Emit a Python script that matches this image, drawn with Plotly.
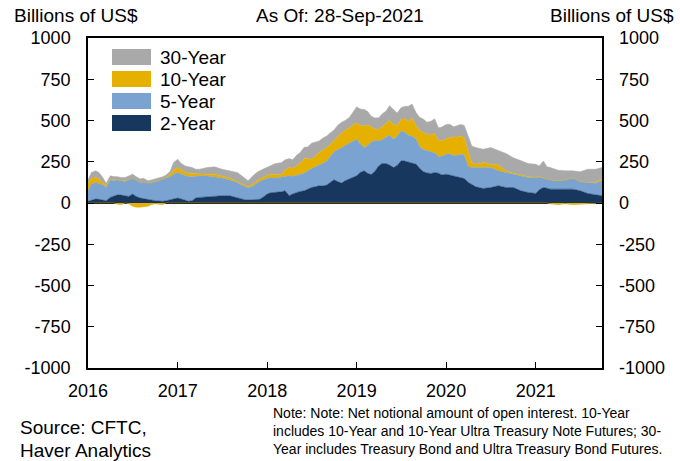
import plotly.graph_objects as go

# Weekly CFTC net notional open interest, sampled roughly twice a month (billions of US$)
dates = [
    "2016-01-01", "2016-01-15", "2016-02-01", "2016-02-15", "2016-03-01", "2016-03-15",
    "2016-04-01", "2016-04-15", "2016-05-01", "2016-05-15", "2016-06-01", "2016-06-15",
    "2016-07-01", "2016-07-15", "2016-08-01", "2016-08-15", "2016-09-01", "2016-09-15",
    "2016-10-01", "2016-10-15", "2016-11-01", "2016-11-15", "2016-12-01", "2016-12-15",
    "2017-01-01", "2017-01-15", "2017-02-01", "2017-02-15", "2017-03-01", "2017-03-15",
    "2017-04-01", "2017-05-01", "2017-06-01", "2017-07-01", "2017-08-01", "2017-09-01",
    "2017-09-15", "2017-10-01", "2017-10-15", "2017-11-01", "2017-11-15", "2017-12-01",
    "2017-12-15",
    "2018-01-01", "2018-01-15", "2018-02-01", "2018-03-01", "2018-03-15", "2018-04-01",
    "2018-04-15", "2018-05-01", "2018-05-15", "2018-06-01", "2018-06-15", "2018-07-01",
    "2018-07-15", "2018-08-01", "2018-08-15", "2018-09-01", "2018-09-15", "2018-10-01",
    "2018-10-15", "2018-11-01", "2018-11-15", "2018-12-01", "2018-12-15",
    "2019-01-01", "2019-01-15", "2019-02-01", "2019-02-15", "2019-03-01", "2019-03-15",
    "2019-04-01", "2019-04-15", "2019-05-01", "2019-05-15", "2019-06-01", "2019-06-15",
    "2019-07-01", "2019-07-15", "2019-08-01", "2019-08-15", "2019-09-01", "2019-09-15",
    "2019-10-01", "2019-10-15", "2019-11-01", "2019-11-15", "2019-12-01", "2019-12-15",
    "2020-01-01", "2020-01-15", "2020-02-01", "2020-02-15", "2020-03-01", "2020-03-15",
    "2020-04-01", "2020-04-15", "2020-05-01", "2020-06-01", "2020-07-01", "2020-08-01",
    "2020-09-01", "2020-10-01", "2020-11-01", "2020-12-01",
    "2021-01-01", "2021-01-15", "2021-02-01", "2021-02-15", "2021-03-01", "2021-04-01",
    "2021-05-01", "2021-06-01", "2021-07-01", "2021-08-01", "2021-09-01", "2021-09-28",
]

two_year = [
    10, 18, 24, 22, 18, 14, 34, 40, 50, 48, 44, 40, 54, 40, 30, 26, 18, 15, 14, 12, 10, 14, 18, 25,
    30, 25, 18, 10, 14, 30, 34, 38, 38, 44, 44, 30, 24, 20, 18, 18, 20, 22, 35,
    54, 62, 64, 68, 75, 44, 55, 64, 70, 74, 85, 94, 98, 105, 103, 109, 125, 141, 130, 121, 135, 145, 155,
    165, 185, 195, 180, 172, 190, 225, 240, 239, 230, 215, 228, 255, 255, 249, 245, 235, 210, 189, 182,
    179, 185, 181, 170,
    175, 170, 165, 160, 155, 148, 125, 111, 98, 88, 94, 105, 94, 94, 74, 64,
    58, 80, 94, 90, 84, 84, 84, 84, 74, 58, 50, 44,
]

five_year = [
    65, 97, 101, 98, 92, 80, 105, 97, 89, 87, 87, 100, 97, 100, 95, 102, 102, 107, 113, 123, 135, 136, 141, 150,
    155, 150, 147, 150, 145, 132, 131, 125, 121, 107, 95, 95, 88, 80, 74, 82, 95, 109, 105,
    93, 93, 86, 87, 85, 121, 107, 101, 102, 107, 110, 115, 120, 124, 137, 146, 155, 169, 192, 215, 210, 211, 215,
    221, 175, 141, 170, 196, 188, 151, 145, 157, 180, 171, 177, 181, 175, 161, 160, 151, 130, 133, 136,
    131, 120, 100, 115,
    120, 130, 120, 130, 140, 142, 94, 104, 117, 123, 121, 90, 91, 81, 91, 91,
    97, 78, 57, 55, 55, 51, 55, 67, 56, 67, 70, 91,
]

ten_year = [
    45, 35, 30, 25, 15, 11, 4, 4, -8, -10, 5, -5, -20, -25, -25, -22, -20, -10, -5, -8, -10, 5, 16, 24,
    30, 25, 20, 20, 20, 14, 10, 12, 16, 14, 12, 6, 10, 10, 8, 12, 13, 14, 15,
    18, 20, 22, 20, 40, 50, 48, 60, 68, 88, 75, 56, 67, 77, 80, 81, 75, 66, 78, 90, 95, 100, 100,
    100, 110, 130, 125, 92, 72, 70, 80, 90, 90, 90, 65, 71, 80, 86, 110, 80, 100, 104, 102,
    100, 120, 95, 95,
    91, 95, 117, 108, 111, 105, 86, 30, 20, 34, 20, 36, 10, 5, 6, 4,
    3, 2, 2, 2, -5, -10, -5, -10, -8, -5, 5, 10,
]

thirty_year = [
    20, 35, 40, 40, 30, 15, 22, 19, 20, 20, 19, 25, 24, 20, 20, 22, 15, 18, 18, 15, 14, 15, 16, 46,
    50, 40, 40, 40, 36, 29, 30, 40, 44, 40, 44, 54, 48, 40, 35, 48, 52, 50, 50,
    55, 55, 66, 70, 62, 54, 52, 64, 65, 69, 70, 97, 83, 70, 72, 70, 70, 66, 70, 64, 60, 61, 75,
    97, 100, 101, 80, 67, 65, 71, 75, 71, 90, 91, 75, 70, 75, 91, 85, 81, 80, 81, 70,
    86, 85, 80, 80,
    90, 83, 60, 72, 70, 75, 91, 101, 101, 81, 101, 89, 105, 95, 84, 80,
    77, 65, 102, 73, 76, 64, 56, 44, 60, 80, 79, 70,
]

y_ticks = [1000, 750, 500, 250, 0, -250, -500, -750, -1000]
y_tick_text = ["1000", "750", "500", "250", "0", "-250", "-500", "-750", "-1000"]
year_ticks = ["2016-01-01", "2017-01-01", "2018-01-01", "2019-01-01", "2020-01-01", "2021-01-01"]
year_labels = ["2016", "2017", "2018", "2019", "2020", "2021"]

NAVY = "#17375e"
LIGHT_BLUE = "#7ba3d2"
GOLD = "#e6b000"
GRAY = "#a9a9a9"
FONT = "Liberation Sans, Arial, sans-serif"

# Positive parts stack upward from zero, negative parts stack downward
ten_pos = [max(v, 0) for v in ten_year]
ten_neg = [min(v, 0) for v in ten_year]

fig = go.Figure()
layers = [
    ("2-Year", two_year, NAVY, "pos"),
    ("5-Year", five_year, LIGHT_BLUE, "pos"),
    ("10-Year", ten_pos, GOLD, "pos"),
    ("30-Year", thirty_year, GRAY, "pos"),
    ("10-Year", ten_neg, GOLD, "neg"),
]
for name, vals, color, group in layers:
    fig.add_trace(go.Scatter(
        x=dates, y=vals, name=name, mode="lines",
        stackgroup=group, fillcolor=color,
        line=dict(color=color, width=0.5),
        showlegend=False, hoverinfo="x+y+name",
    ))

# Invisible companion trace so the right-hand value axis is drawn
fig.add_trace(go.Scatter(
    x=dates, y=two_year, yaxis="y2", mode="none",
    showlegend=False, hoverinfo="skip",
))

# Plot area geometry in pixels
W, H = 680, 461
L, R, T, B = 88, 602, 38, 368


def px_x(x):
    return (x - L) / (R - L)


def px_y(y):
    return (B - y) / (B - T)


fig.update_layout(
    width=W, height=H, autosize=False,
    margin=dict(l=L, r=W - R, t=T, b=H - B, pad=0),
    paper_bgcolor="white", plot_bgcolor="white",
    font=dict(family=FONT, size=18, color="black"),
    showlegend=False,
    xaxis=dict(
        range=["2016-01-01", "2021-09-28"],
        tickvals=year_ticks, ticktext=year_labels,
        ticks="inside", ticklen=6, tickcolor="black", tickwidth=1,
        showline=True, linecolor="black", linewidth=1.5, mirror=True,
        showgrid=False, zeroline=False,
        tickfont=dict(size=18), ticklabelstandoff=6,
    ),
    yaxis=dict(
        range=[-1000, 1000], tickvals=y_ticks, ticktext=y_tick_text,
        ticks="inside", ticklen=6, tickcolor="black", tickwidth=1,
        showline=True, linecolor="black", linewidth=1.5, mirror=True,
        showgrid=False, zeroline=True, zerolinecolor="black", zerolinewidth=1.5,
        tickfont=dict(size=18), ticklabelstandoff=12,
    ),
    yaxis2=dict(
        range=[-1000, 1000], tickvals=y_ticks, ticktext=y_tick_text,
        overlaying="y", side="right", anchor="x",
        ticks="inside", ticklen=6, tickcolor="black", tickwidth=1,
        showline=False, showgrid=False, zeroline=False,
        tickfont=dict(size=18), ticklabelstandoff=16,
    ),
)

annotations = [
    dict(text="Billions of US$", x=px_x(76), y=px_y(15), xanchor="center"),
    dict(text="As Of: 28-Sep-2021", x=px_x(340), y=px_y(15), xanchor="center"),
    dict(text="Billions of US$", x=px_x(676), y=px_y(15), xanchor="right"),
    dict(text="Source: CFTC,", x=px_x(18), y=px_y(427), xanchor="left"),
    dict(text="Haver Analytics", x=px_x(18), y=px_y(450), xanchor="left"),
    dict(text="Note: Note: Net notional amount of open interest. 10-Year<br>"
              "includes 10-Year and 10-Year Ultra Treasury Note Futures; 30-<br>"
              "Year includes Treasury Bond and Ultra Treasury Bond Futures.",
         x=px_x(271), y=px_y(431), xanchor="left", align="left",
         font=dict(size=14)),
]

# Legend: swatches and labels inside the plot, top-left
legend_rows = [("30-Year", GRAY, 57), ("10-Year", GOLD, 79), ("5-Year", LIGHT_BLUE, 101), ("2-Year", NAVY, 123)]
shapes = []
for label, color, cy in legend_rows:
    shapes.append(dict(
        type="rect", xref="paper", yref="paper",
        x0=px_x(112), x1=px_x(151), y0=px_y(cy + 8), y1=px_y(cy - 8),
        fillcolor=color, line=dict(width=0), layer="above",
    ))
    annotations.append(dict(text=label, x=px_x(158), y=px_y(cy), xanchor="left"))

for a in annotations:
    a.setdefault("xref", "paper")
    a.setdefault("yref", "paper")
    a.setdefault("yanchor", "middle")
    a.setdefault("showarrow", False)
    a.setdefault("font", dict(size=19))
    a["font"].setdefault("family", FONT)
    a["font"].setdefault("color", "black")

fig.update_layout(annotations=annotations, shapes=shapes)

fig.write_html("out.html")
